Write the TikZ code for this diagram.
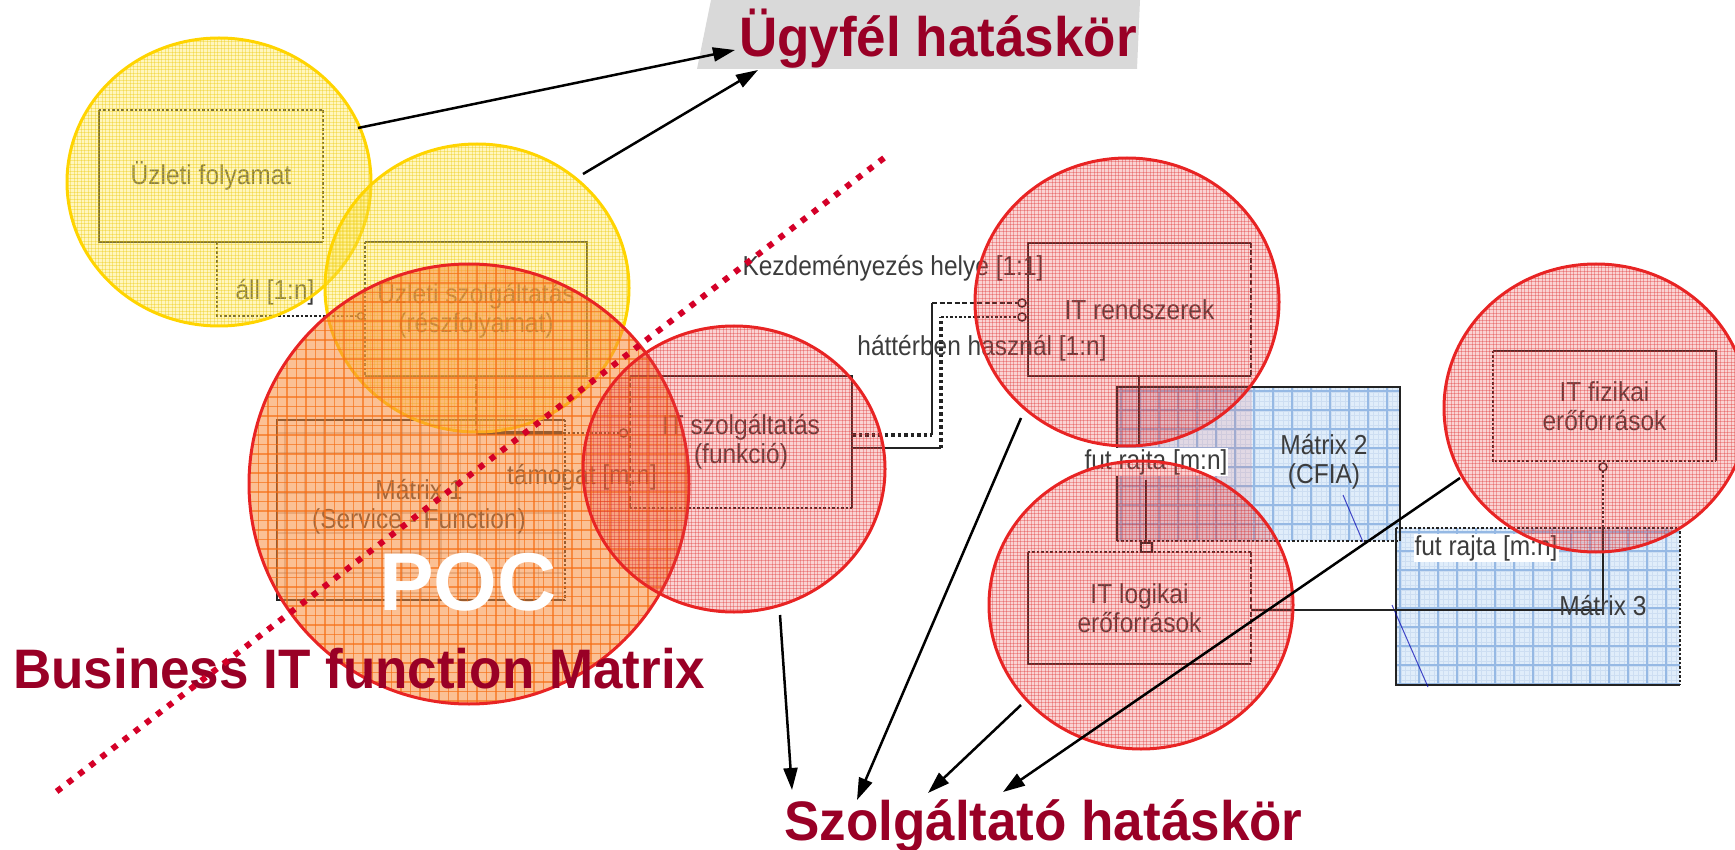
\documentclass[tikz,border=0pt]{standalone}
\usepackage{fontspec}
\setmainfont{Liberation Sans}
\usetikzlibrary{arrows.meta}
\definecolor{hd}{RGB}{153,0,38}
\definecolor{tx}{RGB}{60,60,60}
\definecolor{ln}{RGB}{35,35,35}
\definecolor{yfill}{RGB}{255,232,90}
\definecolor{ygrid}{RGB}{235,200,0}
\definecolor{yborder}{RGB}{255,212,0}
\definecolor{rfill}{RGB}{235,70,70}
\definecolor{rgrid}{RGB}{220,40,40}
\definecolor{rborder}{RGB}{232,36,36}
\definecolor{ofill}{RGB}{248,140,60}
\definecolor{ogrid}{RGB}{245,110,20}
\definecolor{bfill}{RGB}{224,237,250}
\definecolor{bgrid}{RGB}{150,185,228}
\definecolor{bfine}{RGB}{205,222,242}
\definecolor{dotred}{RGB}{212,0,40}
\definecolor{grayband}{RGB}{217,217,217}
\definecolor{mcol}{RGB}{120,80,60}
\newcommand\vs[1]{\scalebox{1}[1.12]{#1}}
\newcommand\hs[1]{\scalebox{1}[1.05]{#1}}
% tinted ellipse: cx cy rx ry fillstyle gridstyle spacing borderstyle
\newcommand\tintell[8]{%
  \begin{scope}
    \clip (#1,#2) ellipse [x radius=#3, y radius=#4];
    \fill[#5] ({#1-#3},{#2-#4}) rectangle ({#1+#3},{#2+#4});
    \pgfmathtruncatemacro\nxx{2*#3/#7}%
    \pgfmathtruncatemacro\nyy{2*#4/#7}%
    \foreach \k in {0,...,\nxx}{\draw[#6] ({#1-#3+\k*#7},{#2-#4}) -- ++(0,{2*#4});}
    \foreach \k in {0,...,\nyy}{\draw[#6] ({#1-#3},{#2-#4+\k*#7}) -- ++({2*#3},0);}
  \end{scope}
  \draw[#8] (#1,#2) ellipse [x radius=#3, y radius=#4];
}
% blue matrix grid: x1 y1 x2 y2
\newcommand\bluegrid[4]{%
  \begin{scope}
    \clip (#1,#2) rectangle (#3,#4);
    \fill[bfill] (#1,#2) rectangle (#3,#4);
    \foreach \k in {0,...,75}{\draw[bfine, line width=0.5pt] ({#1+\k*4.75},#2) -- ({#1+\k*4.75},#4);}
    \foreach \k in {0,...,40}{\draw[bfine, line width=0.5pt] (#1,{#2+\k*4.75}) -- (#3,{#2+\k*4.75});}
    \foreach \k in {0,...,16}{\draw[bgrid, line width=1.3pt] ({#1+4+\k*19},#2) -- ({#1+4+\k*19},#4);}
    \foreach \k in {0,...,9}{\draw[bgrid, line width=1.3pt] (#1,{#2+4+\k*19}) -- (#3,{#2+4+\k*19});}
  \end{scope}
}
\begin{document}
\begin{tikzpicture}[x=1pt,y=-1pt,
  lbl/.style={font=\fontsize{24.5}{29}\selectfont, text=tx, align=center, inner sep=0pt},
  boxn/.style={inner sep=0pt, font=\fontsize{24.5}{29}\selectfont, text=tx, align=center},
  es/.style={ln, line width=2.5pt},
  ed/.style={ln, line width=2.5pt, dash pattern=on 5pt off 2.5pt},
  et/.style={ln, line width=2.5pt, dash pattern=on 2.5pt off 2pt},
  etk/.style={ln, line width=3.5pt, dash pattern=on 3.5pt off 3pt},
  arr/.style={black, line width=2.5pt, -{Triangle[length=22pt,width=14pt]}},
  head/.style={font=\bfseries\fontsize{53}{60}\selectfont, text=hd, inner sep=0pt, anchor=base west},
  yfillS/.style={fill=yfill, fill opacity=0.4},
  ygridS/.style={draw=ygrid, line width=0.7pt, draw opacity=0.35},
  yborderS/.style={draw=yborder, line width=3pt},
  rfillS/.style={fill=rfill, fill opacity=0.24},
  rgridS/.style={draw=rgrid, line width=0.7pt, draw opacity=0.33},
  rborderS/.style={draw=rborder, line width=3pt},
  ofillS/.style={fill=ofill, fill opacity=0.55},
  ogridS/.style={draw=ogrid, line width=1.2pt, draw opacity=0.65},
]
\useasboundingbox (0,0) rectangle (1735,850);

% grey band behind the top heading
\fill[grayband] (711,0) -- (1140,0) -- (1137,69) -- (697,69) -- cycle;

% ---------- matrices (blue) ----------
\bluegrid{1117}{387}{1400}{541}
\bluegrid{1396}{528}{1680}{685}
\fill[rfill, fill opacity=0.12] (1117,387) rectangle (1252,541);
\node[inner sep=0, minimum width=283pt, minimum height=154pt] (m2) at (1258.5,464) {};
\node[inner sep=0, minimum width=284pt, minimum height=157pt] (m3) at (1538,606.5) {};
\draw[es] (m2.south west) -- (m2.north west) -- (m2.north east) -- (m2.south east);
\draw[et] (m2.south west) -- (m2.south east);
\draw[es] (m3.north west) -- (m3.south west) -- (m3.south east);
\draw[et] (m3.north west) -- (m3.north east) -- (m3.south east);
\draw[blue!70!black, line width=1pt, opacity=.7] (1343,495) -- (1363,542);
\draw[blue!70!black, line width=1pt, opacity=.7] (1392,605) -- (1428,687);

% ---------- matrix 1 ----------
\node[inner sep=0, minimum width=288pt, minimum height=180pt] (m1) at (421,510) {};
\begin{scope}
  \clip (m1.north west) rectangle (m1.south east);
  \foreach \k in {0,...,14}{\draw[mcol, line width=1.5pt, draw opacity=0.3] ({285+\k*19.5},420) -- ++(0,180);}
  \foreach \k in {0,...,8}{\draw[mcol, line width=1.5pt, draw opacity=0.3] (277,{433+\k*20}) -- ++(288,0);}
\end{scope}
\draw[es] (m1.south east) -- (m1.south west) -- (m1.north west) -- (m1.north east);
\draw[et] (m1.north east) -- (m1.south east);
\node[boxn] (m1t) at (419,507) {\vs{Mátrix 1}\\\vs{(Service - Function)}};

% ---------- boxes ----------
\node[boxn, minimum width=224pt, minimum height=132pt] (uf) at (211,176) {\vs{Üzleti folyamat}};
\draw[et] (uf.north west) -- (uf.north east) -- (uf.south east);
\draw[es] (uf.north west) -- (uf.south west) -- (uf.south east);

\node[boxn, minimum width=222pt, minimum height=134pt] (usz) at (476,309) {\vs{Üzleti szolgáltatás}\\\vs{(részfolyamat)}};
\draw[es] (usz.north west) -- (usz.north east) -- (usz.south east) -- (usz.south west);
\draw[et] (usz.north west) -- (usz.south west);

\node[boxn, minimum width=222pt, minimum height=132pt] (its) at (741,442) {\vs{IT szolgáltatás}\\\vs{(funkció)}};
\draw[es] (its.north west) -- (its.north east) -- (its.south east);
\draw[ed] (its.north west) -- (its.south west);
\draw[et] (its.south west) -- (its.south east);

\node[boxn, minimum width=223pt, minimum height=133pt] (itr) at (1139.5,309.5) {\vs{IT rendszerek}};
\draw[es] (itr.north east) -- (itr.north west) -- (itr.south west) -- (itr.south east);
\draw[ed] (itr.north east) -- (itr.south east);

\node[boxn, minimum width=223pt, minimum height=112pt] (itl) at (1139.5,608) {\vs{IT logikai}\\\vs{erőforrások}};
\draw[et] (itl.north west) -- (itl.north east);
\draw[ed] (itl.north east) -- (itl.south east);
\draw[es] (itl.north west) -- (itl.south west) -- (itl.south east);

\node[boxn, minimum width=223pt, minimum height=110pt] (itf) at (1604.5,406) {\vs{IT fizikai}\\\vs{erőforrások}};
\draw[es] (itf.north west) -- (itf.north east) -- (itf.south east);
\draw[et] (itf.north west) -- (itf.south west) -- (itf.south east);

\node[boxn] (m2t) at (1324,462) {\vs{Mátrix 2}\\\vs{(CFIA)}};

% ---------- connectors ----------
% áll
\coordinate (a1) at (217,316);
\draw[et] ([xshift=6pt]uf.south) -- (a1) -- (357,316);
\draw[ln, line width=1.5pt] (361,316) circle (3.5);
\node[lbl] (lall) at (275,292) {\vs{áll [1:n]}};
% támogat
\coordinate (b1) at (476,433);
\coordinate (b2) at (563,433);
\draw[ed] (usz.south) -- (b1);
\draw[ln, line width=3.5pt] (b1) -- (b2);
\draw[et] (b2) -- (619,433);
\draw[ln, line width=1.5pt] (623.5,433) circle (4);
\node[lbl] (ltam) at (582,477) {\vs{támogat [m:n]}};
% IT szolgaltatas -> IT rendszerek
\coordinate (c1) at (932,435);
\coordinate (c2) at (932,303);
\coordinate (d1) at (941,448);
\coordinate (d2) at (941,317);
\draw[etk] (its.east |- c1) -- (c1);
\draw[es] (c1) -- (c2);
\draw[ed] (c2) -- (1018,303);
\draw[es] (its.east |- d1) -- (d1);
\draw[etk] (d1) -- (d2);
\draw[et] (d2) -- (1018,317);
\draw[ln, line width=1.5pt] (1022,303) circle (4);
\draw[ln, line width=1.5pt] (1022,317) circle (4);
\node[lbl] (lkez) at (893,268) {\vs{Kezdeményezés helye [1:1]}};
\node[lbl] (lhat) at (982,348) {\vs{háttérben használ [1:n]}};
% IT rendszerek -> IT logikai
\draw[es] (1139,376) -- (1139,447);
\draw[es] (1146,480) -- (1146,543);
\draw[ln, line width=1.5pt] (1141,543) rectangle (1152,552);
\node[lbl, fill=white, inner sep=1pt] (lfut1) at (1156,462) {\vs{fut rajta [m:n]}};
% IT logikai -> IT fizikai
\coordinate (e1) at (1603,610);
\coordinate (e2) at (1603,527);
\draw[es] (itl.east |- e1) -- (e1) -- (e2);
\draw[et] (e2) -- (1603,471);
\draw[ln, line width=1.5pt] (1603,467) circle (4);
\node[lbl, fill=white, inner sep=1pt] (lfut2) at (1486,548) {\vs{fut rajta [m:n]}};
\node[lbl] (m3t) at (1603,606) {\vs{Mátrix 3}};

% ---------- tinted ellipses ----------
\tintell{219}{182}{152}{144}{yfillS}{ygridS}{3.5}{yborderS}
\tintell{477}{288}{152}{144}{yfillS}{ygridS}{3.5}{yborderS}
\tintell{469}{484}{220}{220}{ofillS}{ogridS}{9.5}{rborderS}
\tintell{734}{469}{151}{143}{rfillS}{rgridS}{3.5}{rborderS}
\tintell{1127}{302}{152}{144}{rfillS}{rgridS}{3.5}{rborderS}
\tintell{1141}{605}{152}{144}{rfillS}{rgridS}{3.5}{rborderS}
\tintell{1596}{408}{152}{144}{rfillS}{rgridS}{3.5}{rborderS}

% ---------- headings ----------
\node[head] (ugy) at (739,57) {\hs{Ügyfél hatáskör}};
\node[head] (biz) at (13,688) {\hs{Business IT function Matrix}};
\node[head] (szo) at (784,840) {\hs{Szolgáltató hatáskör}};
\node[font=\bfseries\fontsize{82}{90}\selectfont, text=white, anchor=base west, inner sep=0pt] (poc) at (379,610) {POC};

% ---------- arrows ----------
\coordinate (s1) at (358,128); \coordinate (t1) at (735,50);
\coordinate (s2) at (583,174); \coordinate (t2) at (758,70);
\coordinate (s3) at (780,615); \coordinate (t3) at (792,790);
\coordinate (s4) at (1021,418); \coordinate (t4) at (857,800);
\coordinate (s5) at (1021,705); \coordinate (t5) at (928,793);
\coordinate (s6) at (1460,478); \coordinate (t6) at (1003,792);
\draw[arr] (s1) -- (t1);
\draw[arr] (s2) -- (t2);
\draw[arr] (s3) -- (t3);
\draw[arr] (s4) -- (t4);
\draw[arr] (s5) -- (t5);
\draw[arr] (s6) -- (t6);

% ---------- red dotted divider ----------
\coordinate (r1) at (884,158);
\coordinate (r2) at (52,795);
\draw[dotred, line width=6pt, dash pattern=on 6pt off 8pt] (r1) -- (r2);
\end{tikzpicture}
\end{document}
